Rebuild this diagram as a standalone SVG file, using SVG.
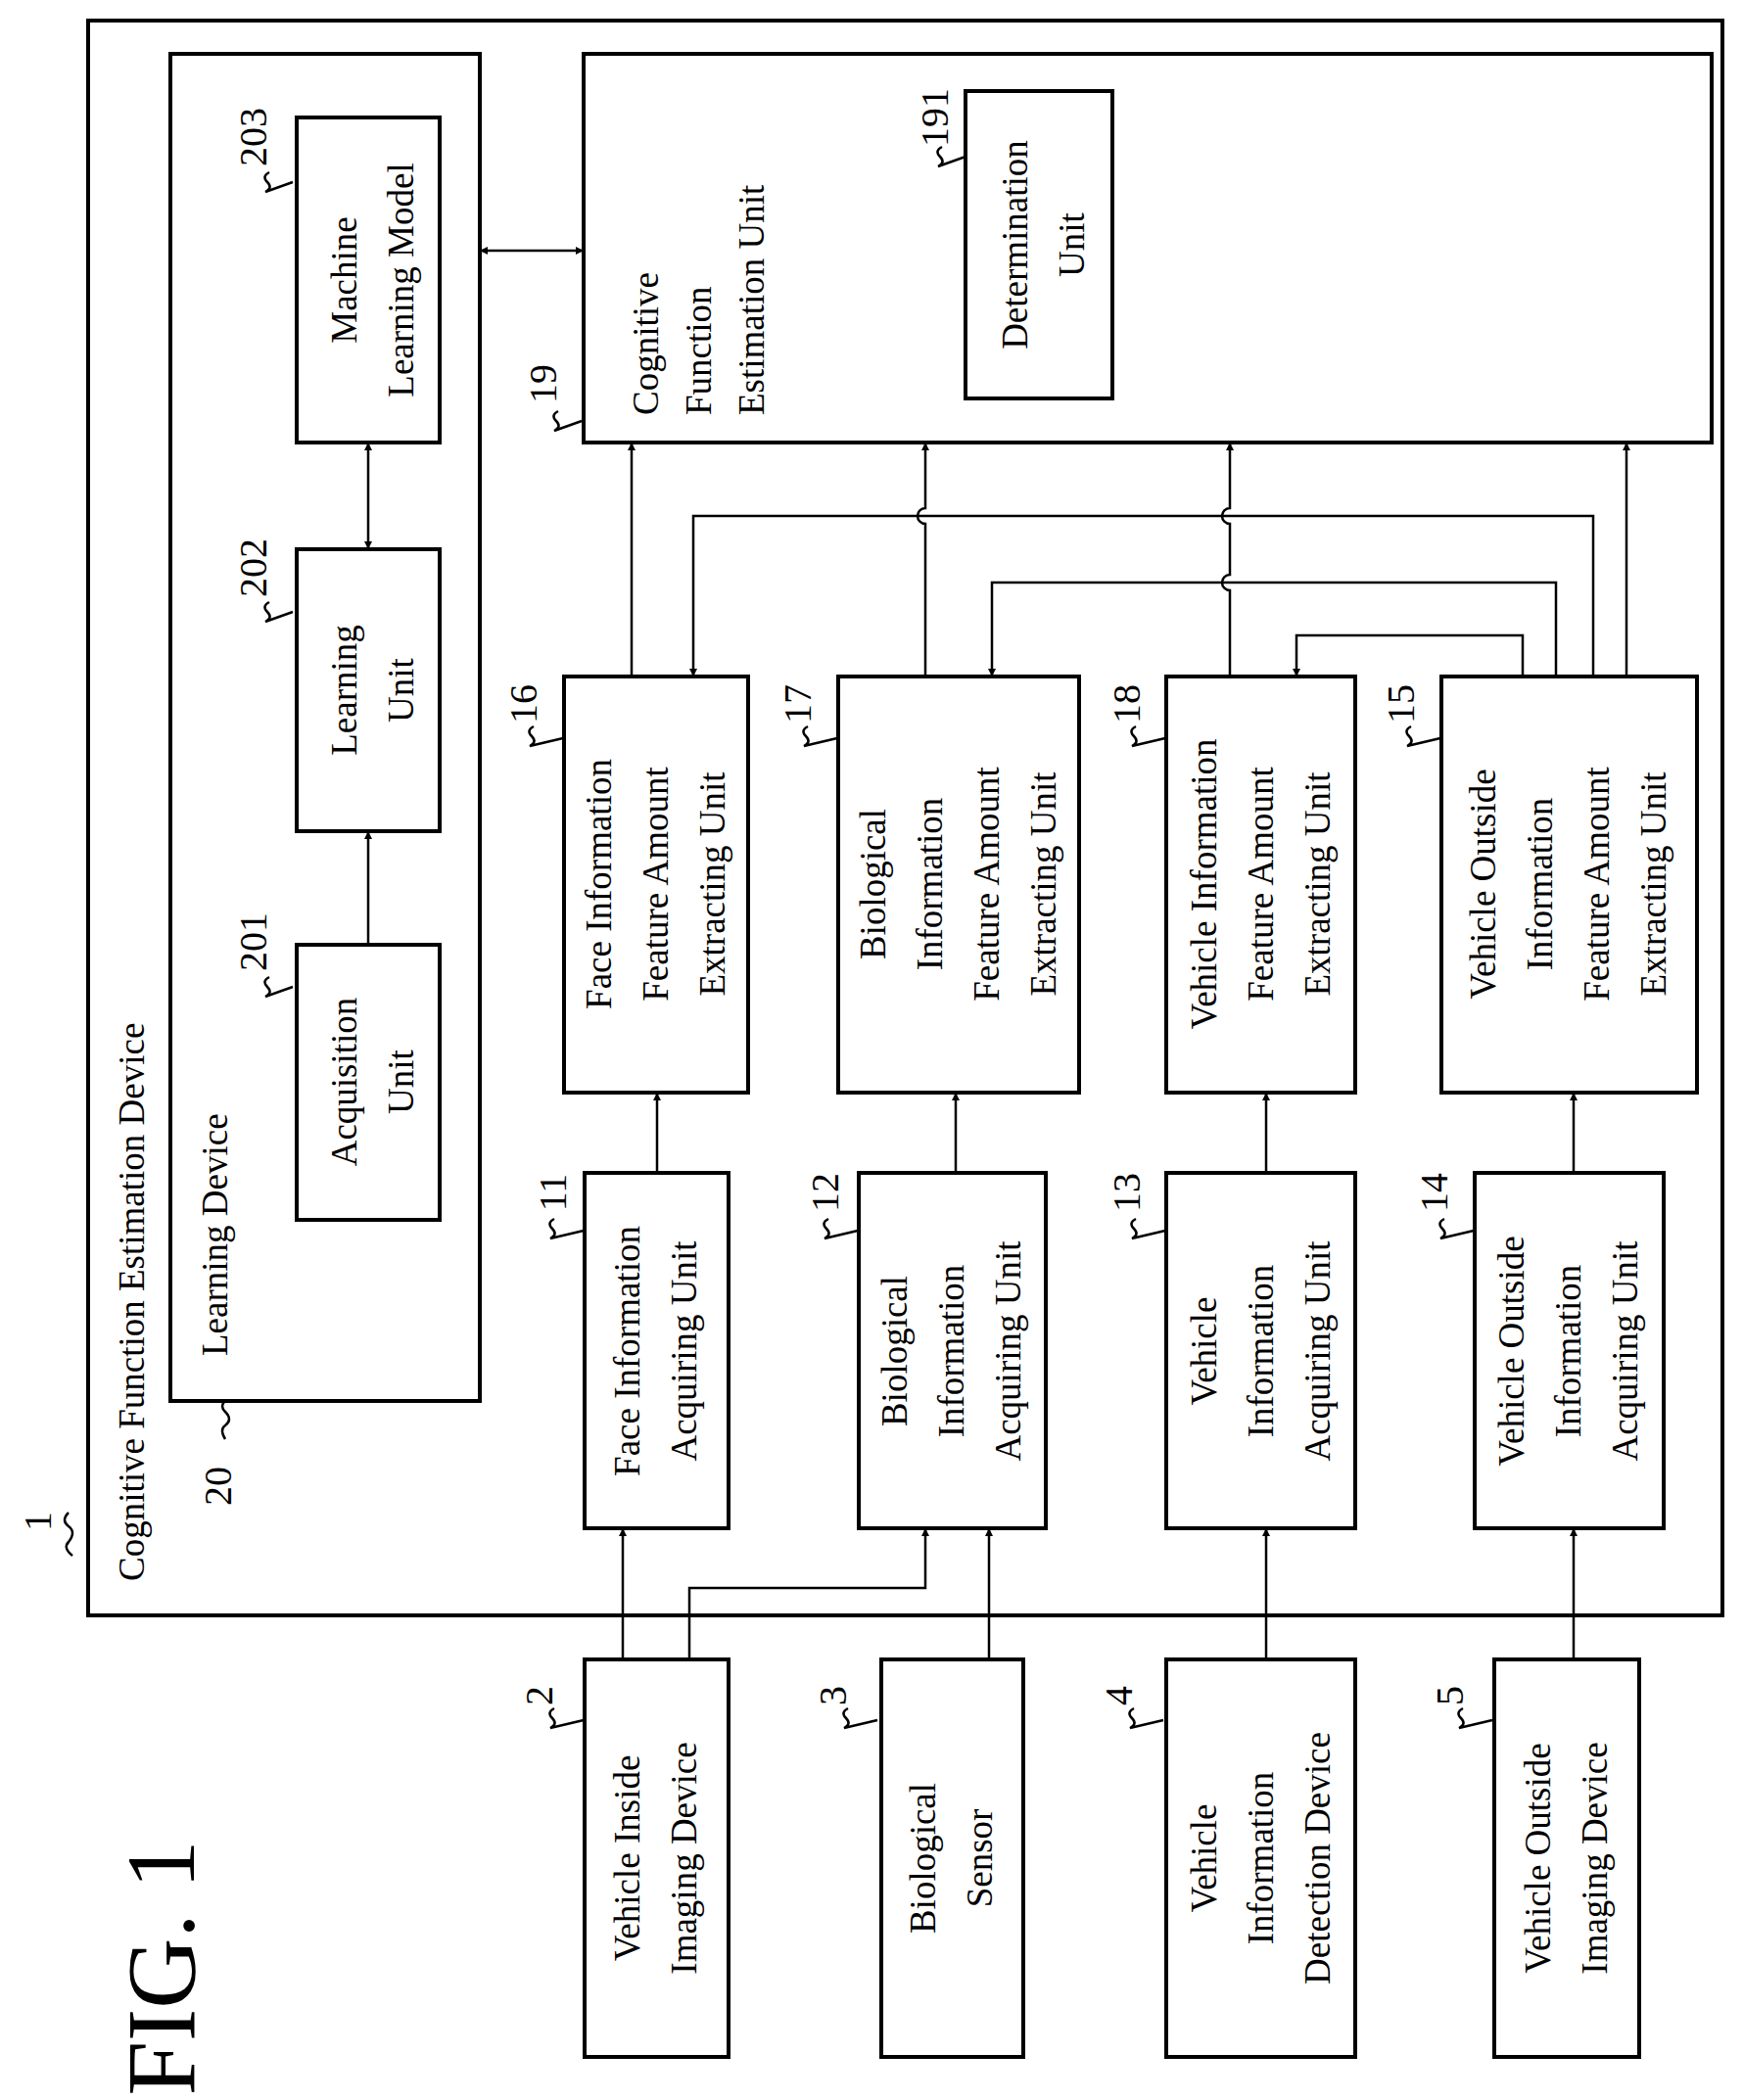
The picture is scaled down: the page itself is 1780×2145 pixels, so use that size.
<svg xmlns="http://www.w3.org/2000/svg" width="1780" height="2145" viewBox="0 0 1780 2145">
<style>
.b{fill:none;stroke:#000;stroke-width:4}
.c{fill:none;stroke:#000;stroke-width:2.5}
.a{marker-end:url(#ah)}
.ab{marker-end:url(#ah);marker-start:url(#as)}
text{font-family:"Liberation Serif",serif;font-size:37px;fill:#000;text-anchor:middle}
.n{font-size:40px}
.s{text-anchor:start}
</style>
<defs>
<marker id="ah" viewBox="0 0 10 10" refX="10" refY="5" markerWidth="8" markerHeight="8" markerUnits="userSpaceOnUse" orient="auto"><path d="M0,0 L10,5 L0,10 Z" fill="#000"/></marker>
<marker id="as" viewBox="0 0 10 10" refX="0" refY="5" markerWidth="8" markerHeight="8" markerUnits="userSpaceOnUse" orient="auto"><path d="M10,0 L0,5 L10,10 Z" fill="#000"/></marker>
</defs>
<rect width="1780" height="2145" fill="#fff"/>
<text transform="translate(198,2010) rotate(-90)" style="font-size:100px">FIG. 1</text>

<g id="n1"><rect class="b" x="90" y="21" width="1669" height="1629"/>
<text class="s" transform="translate(147,1615) rotate(-90)">Cognitive Function Estimation Device</text>
<text class="n" transform="translate(52,1554) rotate(-90)">1</text><path class="c" d="M70,1545 q-8,8 0,14 q8,6 0,16 q-6,6 4,14"/></g>

<g id="n20"><rect class="b" x="174" y="55" width="316" height="1376"/>
<text class="s" transform="translate(232,1385) rotate(-90)">Learning Device</text>
<text class="n" transform="translate(236,1518) rotate(-90)">20</text><path class="c" d="M230,1470 q-6,-10 0,-14 q8,-6 0,-14 q-6,-6 0,-11"/></g>

<g id="n203"><rect class="b" x="303" y="120" width="146" height="332"/>
<text transform="translate(376,286) rotate(-90)"><tspan x="0" y="-12">Machine</tspan><tspan x="0" y="46">Learning Model</tspan></text>
<text class="n" transform="translate(272,140) rotate(-90)">203</text><path class="c" d="M275,176 q-8,4 -2,10 q6,6 -2,10 l28,-10"/></g>
<g id="n202"><rect class="b" x="303" y="561" width="146" height="288"/>
<text transform="translate(376,705) rotate(-90)"><tspan x="0" y="-12">Learning</tspan><tspan x="0" y="46">Unit</tspan></text>
<text class="n" transform="translate(272,580) rotate(-90)">202</text><path class="c" d="M275,615 q-8,4 -2,10 q6,6 -2,10 l28,-10"/></g>
<g id="n201"><rect class="b" x="303" y="965" width="146" height="281"/>
<text transform="translate(376,1105) rotate(-90)"><tspan x="0" y="-12">Acquisition</tspan><tspan x="0" y="46">Unit</tspan></text>
<text class="n" transform="translate(272,962) rotate(-90)">201</text><path class="c" d="M275,998 q-8,4 -2,10 q6,6 -2,10 l28,-10"/></g>

<g id="n19"><rect class="b" x="596" y="55" width="1152" height="397"/>
<text class="s" transform="translate(0,424) rotate(-90)"><tspan x="0" y="672">Cognitive</tspan><tspan x="0" y="726">Function</tspan><tspan x="0" y="780">Estimation Unit</tspan></text>
<text class="n" transform="translate(568,392) rotate(-90)">19</text><path class="c" d="M570,420 q-8,4 -2,10 q6,6 -2,10 l28,-10"/></g>
<g id="n191"><rect class="b" x="986" y="93" width="150" height="314"/>
<text transform="translate(1061,250) rotate(-90)"><tspan x="0" y="-12">Determination</tspan><tspan x="0" y="46">Unit</tspan></text>
<text class="n" transform="translate(968,120) rotate(-90)">191</text><path class="c" d="M962,150 q-8,4 -2,10 q6,6 -2,10 l28,-10"/></g>

<g id="n16"><rect class="b" x="576" y="691" width="188" height="425"/>
<text transform="translate(670,903) rotate(-90)"><tspan x="0" y="-46">Face Information</tspan><tspan x="0" y="12">Feature Amount</tspan><tspan x="0" y="70">Extracting Unit</tspan></text>
<text class="n" transform="translate(548,719) rotate(-90)">16</text><path class="c" d="M545,742 q-8,4 -2,10 q6,6 -2,10 l34,-8"/></g>
<g id="n17"><rect class="b" x="856" y="691" width="246" height="425"/>
<text transform="translate(979,903) rotate(-90)"><tspan x="0" y="-75">Biological</tspan><tspan x="0" y="-17">Information</tspan><tspan x="0" y="41">Feature Amount</tspan><tspan x="0" y="99">Extracting Unit</tspan></text>
<text class="n" transform="translate(828,719) rotate(-90)">17</text><path class="c" d="M825,742 q-8,4 -2,10 q6,6 -2,10 l34,-8"/></g>
<g id="n18"><rect class="b" x="1191" y="691" width="193" height="425"/>
<text transform="translate(1288,903) rotate(-90)"><tspan x="0" y="-46">Vehicle Information</tspan><tspan x="0" y="12">Feature Amount</tspan><tspan x="0" y="70">Extracting Unit</tspan></text>
<text class="n" transform="translate(1164,719) rotate(-90)">18</text><path class="c" d="M1160,742 q-8,4 -2,10 q6,6 -2,10 l34,-8"/></g>
<g id="n15"><rect class="b" x="1472" y="691" width="261" height="425"/>
<text transform="translate(1602,903) rotate(-90)"><tspan x="0" y="-75">Vehicle Outside</tspan><tspan x="0" y="-17">Information</tspan><tspan x="0" y="41">Feature Amount</tspan><tspan x="0" y="99">Extracting Unit</tspan></text>
<text class="n" transform="translate(1444,719) rotate(-90)">15</text><path class="c" d="M1441,742 q-8,4 -2,10 q6,6 -2,10 l34,-8"/></g>

<g id="n11"><rect class="b" x="597" y="1198" width="147" height="363"/>
<text transform="translate(670,1380) rotate(-90)"><tspan x="0" y="-17">Face Information</tspan><tspan x="0" y="41">Acquiring Unit</tspan></text>
<text class="n" transform="translate(578,1218) rotate(-90)">11</text><path class="c" d="M566,1245 q-8,4 -2,10 q6,6 -2,10 l34,-8"/></g>
<g id="n12"><rect class="b" x="877" y="1198" width="191" height="363"/>
<text transform="translate(972,1380) rotate(-90)"><tspan x="0" y="-46">Biological</tspan><tspan x="0" y="12">Information</tspan><tspan x="0" y="70">Acquiring Unit</tspan></text>
<text class="n" transform="translate(856,1218) rotate(-90)">12</text><path class="c" d="M846,1245 q-8,4 -2,10 q6,6 -2,10 l34,-8"/></g>
<g id="n13"><rect class="b" x="1191" y="1198" width="193" height="363"/>
<text transform="translate(1288,1380) rotate(-90)"><tspan x="0" y="-46">Vehicle</tspan><tspan x="0" y="12">Information</tspan><tspan x="0" y="70">Acquiring Unit</tspan></text>
<text class="n" transform="translate(1164,1218) rotate(-90)">13</text><path class="c" d="M1160,1245 q-8,4 -2,10 q6,6 -2,10 l34,-8"/></g>
<g id="n14"><rect class="b" x="1506" y="1198" width="193" height="363"/>
<text transform="translate(1602,1380) rotate(-90)"><tspan x="0" y="-46">Vehicle Outside</tspan><tspan x="0" y="12">Information</tspan><tspan x="0" y="70">Acquiring Unit</tspan></text>
<text class="n" transform="translate(1478,1218) rotate(-90)">14</text><path class="c" d="M1475,1245 q-8,4 -2,10 q6,6 -2,10 l34,-8"/></g>

<g id="n2"><rect class="b" x="597" y="1695" width="147" height="406"/>
<text transform="translate(670,1898) rotate(-90)"><tspan x="0" y="-17">Vehicle Inside</tspan><tspan x="0" y="41">Imaging Device</tspan></text>
<text class="n" transform="translate(564,1732) rotate(-90)">2</text><path class="c" d="M566,1745 q-8,4 -2,10 q6,6 -2,10 l34,-8"/></g>
<g id="n3"><rect class="b" x="900" y="1695" width="145" height="406"/>
<text transform="translate(972,1898) rotate(-90)"><tspan x="0" y="-17">Biological</tspan><tspan x="0" y="41">Sensor</tspan></text>
<text class="n" transform="translate(864,1732) rotate(-90)">3</text><path class="c" d="M866,1745 q-8,4 -2,10 q6,6 -2,10 l34,-8"/></g>
<g id="n4"><rect class="b" x="1191" y="1695" width="193" height="406"/>
<text transform="translate(1288,1898) rotate(-90)"><tspan x="0" y="-46">Vehicle</tspan><tspan x="0" y="12">Information</tspan><tspan x="0" y="70">Detection Device</tspan></text>
<text class="n" transform="translate(1156,1732) rotate(-90)">4</text><path class="c" d="M1158,1745 q-8,4 -2,10 q6,6 -2,10 l34,-8"/></g>
<g id="n5"><rect class="b" x="1526" y="1695" width="148" height="406"/>
<text transform="translate(1600,1898) rotate(-90)"><tspan x="0" y="-17">Vehicle Outside</tspan><tspan x="0" y="41">Imaging Device</tspan></text>
<text class="n" transform="translate(1494,1732) rotate(-90)">5</text><path class="c" d="M1494,1745 q-8,4 -2,10 q6,6 -2,10 l34,-8"/></g>

<g id="connectors">
<path class="c ab" d="M376,452 L376,561"/>
<path class="c a" d="M376,965 L376,849"/>
<path class="c ab" d="M490,256 L596,256"/>
<path class="c a" d="M645,691 L645,452"/>
<path class="c a" d="M945,691 L945,535 A8,8 0 0 1 945,519 L945,452"/>
<path class="c a" d="M1256,691 L1256,603 A8,8 0 0 1 1256,587 L1256,535 A8,8 0 0 1 1256,519 L1256,452"/>
<path class="c a" d="M1661,691 L1661,452"/>
<path class="c a" d="M1555,691 L1555,649 L1324,649 L1324,691"/>
<path class="c a" d="M1589,691 L1589,595 L1013,595 L1013,691"/>
<path class="c a" d="M1627,691 L1627,527 L708,527 L708,691"/>
<path class="c a" d="M671,1198 L671,1116"/>
<path class="c a" d="M976,1198 L976,1116"/>
<path class="c a" d="M1293,1198 L1293,1116"/>
<path class="c a" d="M1607,1198 L1607,1116"/>
<path class="c a" d="M636,1695 L636,1561"/>
<path class="c a" d="M704,1695 L704,1622 L945,1622 L945,1561"/>
<path class="c a" d="M1010,1695 L1010,1561"/>
<path class="c a" d="M1293,1695 L1293,1561"/>
<path class="c a" d="M1607,1695 L1607,1561"/>
</g>
</svg>
